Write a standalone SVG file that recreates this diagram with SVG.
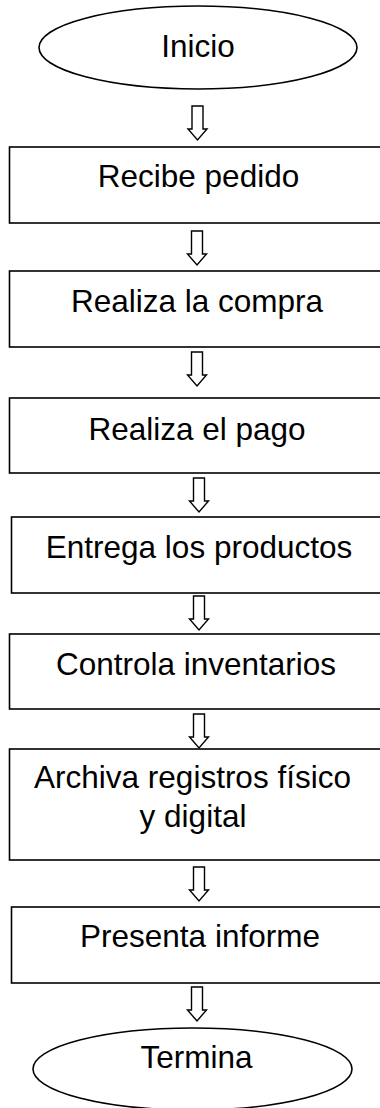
<svg xmlns="http://www.w3.org/2000/svg" xmlns:xlink="http://www.w3.org/1999/xlink" width="380" height="1108" viewBox="0 0 380 1108">
<style>
.shape{fill:#fff;stroke:#000;stroke-width:1.6}
.arrow{fill:#fff;stroke:#000;stroke-width:1.4;stroke-linejoin:miter}
.lbl{font-family:"Liberation Sans",Arial,sans-serif;font-size:31.5px;fill:#000;text-anchor:middle}
</style>
<defs>
<path id="arr" d="M -5.5 -34 H 5.5 V -11 H 9.5 L 0 0 L -9.5 -11 H -5.5 Z"/>
</defs>
<rect width="380" height="1108" fill="#fff"/>
<g id="connectors">
<use xlink:href="#arr" href="#arr" class="arrow" transform="translate(197.5,140)"/>
<use xlink:href="#arr" href="#arr" class="arrow" transform="translate(197,265)"/>
<use xlink:href="#arr" href="#arr" class="arrow" transform="translate(197,386)"/>
<use xlink:href="#arr" href="#arr" class="arrow" transform="translate(199,512)"/>
<use xlink:href="#arr" href="#arr" class="arrow" transform="translate(199,630)"/>
<use xlink:href="#arr" href="#arr" class="arrow" transform="translate(199,748)"/>
<use xlink:href="#arr" href="#arr" class="arrow" transform="translate(199,901)"/>
<use xlink:href="#arr" href="#arr" class="arrow" transform="translate(197,1021)"/>
</g>
<g id="inicio">
<ellipse class="shape" cx="198" cy="47.5" rx="159" ry="41.5"/>
<text class="lbl" x="198" y="57">Inicio</text>
</g>
<g id="recibe">
<rect class="shape" x="9.5" y="147" width="380" height="76"/>
<text class="lbl" x="198.5" y="187">Recibe pedido</text>
</g>
<g id="compra">
<rect class="shape" x="9.5" y="271" width="380" height="76"/>
<text class="lbl" x="197" y="312">Realiza la compra</text>
</g>
<g id="pago">
<rect class="shape" x="9.5" y="398" width="380" height="75"/>
<text class="lbl" x="197" y="440">Realiza el pago</text>
</g>
<g id="entrega">
<rect class="shape" x="11.5" y="517" width="380" height="76"/>
<text class="lbl" x="199" y="558">Entrega los productos</text>
</g>
<g id="controla">
<rect class="shape" x="9.5" y="634" width="380" height="75"/>
<text class="lbl" x="196" y="675">Controla inventarios</text>
</g>
<g id="archiva">
<rect class="shape" x="9.5" y="749" width="380" height="111"/>
<text class="lbl" x="192.5" y="788">Archiva registros físico</text>
<text class="lbl" x="193" y="826.5">y digital</text>
</g>
<g id="presenta">
<rect class="shape" x="11.5" y="907" width="380" height="76"/>
<text class="lbl" x="200" y="947">Presenta informe</text>
</g>
<g id="termina">
<ellipse class="shape" cx="192.5" cy="1069" rx="159.5" ry="41"/>
<text class="lbl" x="196.5" y="1068">Termina</text>
</g>
</svg>
